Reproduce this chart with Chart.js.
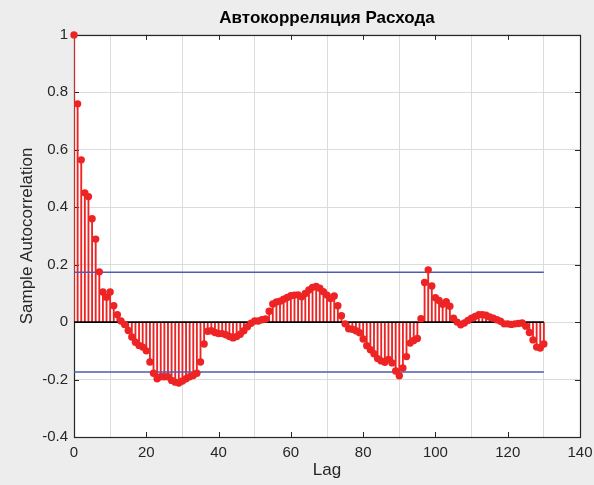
<!DOCTYPE html>
<html>
<head>
<meta charset="utf-8">
<script src="https://cdn.jsdelivr.net/npm/chart.js@4.4.1/dist/chart.umd.min.js"></script>
<style>
  html, body { margin: 0; padding: 0; background: #ededed; }
  #wrap { width: 594px; height: 485px; }
</style>
</head>
<body>
<div id="wrap"><canvas id="acfChart" width="594" height="485"></canvas></div>
<script>
// Sample autocorrelation values, lags 0..130
const acf = [
    1.000, 0.760, 0.565, 0.450, 0.437, 0.360, 0.289, 0.175, 0.105, 0.087,
    0.105, 0.057, 0.026, 0.004, -0.008, -0.029, -0.052, -0.070, -0.081, -0.087,
    -0.100, -0.139, -0.178, -0.197, -0.190, -0.190, -0.190, -0.203, -0.209, -0.212,
    -0.205, -0.197, -0.190, -0.186, -0.178, -0.139, -0.076, -0.032, -0.030, -0.036,
    -0.040, -0.040, -0.044, -0.050, -0.055, -0.050, -0.042, -0.030, -0.016, -0.004,
    0.004, 0.004, 0.008, 0.011, 0.038, 0.063, 0.070, 0.073, 0.080, 0.086,
    0.092, 0.094, 0.095, 0.088, 0.100, 0.112, 0.121, 0.124, 0.118, 0.106,
    0.094, 0.082, 0.091, 0.057, 0.022, -0.006, -0.023, -0.025, -0.030, -0.037,
    -0.059, -0.082, -0.096, -0.110, -0.127, -0.135, -0.140, -0.130, -0.142, -0.170,
    -0.187, -0.160, -0.120, -0.073, -0.064, -0.057, 0.012, 0.138, 0.182, 0.126,
    0.085, 0.075, 0.062, 0.071, 0.055, 0.014, 0.000, -0.009, -0.003, 0.006,
    0.014, 0.020, 0.026, 0.026, 0.024, 0.018, 0.014, 0.008, 0.003, -0.006,
    -0.006, -0.008, -0.006, -0.005, -0.003, -0.014, -0.036, -0.062, -0.087, -0.090,
    -0.076
];
const lags = acf.map((v, i) => i);
const confBound = 0.1735;
const maxLag = 130;

const xTicks = [0, 20, 40, 60, 80, 100, 120, 140];
const yTicks = [-0.4, -0.2, 0, 0.2, 0.4, 0.6, 0.8, 1];

const points = lags.map((lag, i) => ({ x: lag, y: acf[i] }));

const red = '#ee2424';
const blue = '#4a5cb6';
const fontFamily = 'Arial, "Liberation Sans", sans-serif';

// gray figure background + white axes
const backgroundPlugin = {
    id: 'background',
    beforeDraw(chart) {
        const { ctx, chartArea } = chart;
        ctx.save();
        ctx.fillStyle = '#ededed';
        ctx.fillRect(0, 0, chart.width, chart.height);
        ctx.fillStyle = '#ffffff';
        ctx.fillRect(chartArea.left, chartArea.top, chartArea.right - chartArea.left, chartArea.bottom - chartArea.top);
        ctx.restore();
    }
};

// box around axes and inward ticks on all four sides
const boxPlugin = {
    id: 'box',
    beforeDatasetsDraw(chart) {
        const { ctx, chartArea, scales } = chart;
        const { left, right, top, bottom } = chartArea;
        ctx.save();
        ctx.strokeStyle = '#262626';
        ctx.lineWidth = 1;
        ctx.beginPath();
        xTicks.forEach(v => {
            const px = Math.round(scales.x.getPixelForValue(v)) + 0.5;
            ctx.moveTo(px, bottom); ctx.lineTo(px, bottom - 5);
            ctx.moveTo(px, top); ctx.lineTo(px, top + 5);
        });
        yTicks.forEach(v => {
            const py = Math.round(scales.y.getPixelForValue(v)) + 0.5;
            ctx.moveTo(left, py); ctx.lineTo(left + 5, py);
            ctx.moveTo(right, py); ctx.lineTo(right - 5, py);
        });
        ctx.stroke();
        ctx.lineWidth = 1.2;
        ctx.strokeRect(Math.round(left) + 0.5, Math.round(top) + 0.5, Math.round(right - left), Math.round(bottom - top));
        ctx.restore();
    }
};

new Chart(document.getElementById('acfChart'), {
    type: 'scatter',
    data: {
        datasets: [
            {
                type: 'scatter',
                data: points,
                clip: false,
                pointRadius: 3.7,
                pointBackgroundColor: red,
                pointBorderColor: red,
                pointBorderWidth: 0
            },
            {
                type: 'line',
                data: [{ x: 0, y: 0 }, { x: maxLag, y: 0 }],
                borderColor: '#000000',
                borderWidth: 1.6,
                pointRadius: 0
            },
            {
                type: 'line',
                data: [{ x: 0, y: confBound }, { x: maxLag, y: confBound }],
                borderColor: blue,
                borderWidth: 1.5,
                pointRadius: 0
            },
            {
                type: 'line',
                data: [{ x: 0, y: -confBound }, { x: maxLag, y: -confBound }],
                borderColor: blue,
                borderWidth: 1.5,
                pointRadius: 0
            },
            {
                type: 'bar',
                data: points,
                backgroundColor: red,
                barThickness: 1.2
            }
        ]
    },
    plugins: [backgroundPlugin, boxPlugin],
    options: {
        responsive: false,
        animation: false,
        layout: { padding: { left: 0, right: 14, top: 0, bottom: 0 } },
        plugins: {
            legend: { display: false },
            tooltip: { enabled: false },
            title: {
                display: true,
                text: 'Автокорреляция Расхода',
                fullSize: false,
                color: '#000000',
                font: { family: fontFamily, size: 17, weight: 'bold' },
                padding: { top: 8, bottom: 6.5 }
            }
        },
        scales: {
            x: {
                type: 'linear',
                min: 0,
                max: 140,
                offset: false,
                afterBuildTicks: axis => { axis.ticks = xTicks.map(v => ({ value: v })); },
                afterFit: axis => {
                    axis.height = 48;
                    // let the "140" label hang over the right margin, as in MATLAB
                    axis.paddingRight = 0;
                    axis.paddingLeft = 0;
                },
                grid: { color: '#dcdcdc', drawTicks: false },
                border: { display: false },
                ticks: {
                    color: '#262626',
                    padding: 7,
                    maxRotation: 0,
                    font: { family: fontFamily, size: 15 }
                },
                title: {
                    display: true,
                    text: 'Lag',
                    color: '#262626',
                    font: { family: fontFamily, size: 17 },
                    padding: { top: 0, bottom: 4.8 }
                }
            },
            y: {
                type: 'linear',
                min: -0.4,
                max: 1,
                afterBuildTicks: axis => { axis.ticks = yTicks.map(v => ({ value: v })); },
                afterFit: axis => { axis.width = 74; },
                grid: { color: '#dcdcdc', drawTicks: false },
                border: { display: false },
                ticks: {
                    color: '#262626',
                    padding: 6,
                    font: { family: fontFamily, size: 15 },
                    callback: v => String(Math.round(v * 10) / 10)
                },
                title: {
                    display: true,
                    text: 'Sample Autocorrelation',
                    color: '#262626',
                    font: { family: fontFamily, size: 17 },
                    padding: { top: 17, bottom: 0 }
                }
            }
        }
    }
});
</script>
</body>
</html>
